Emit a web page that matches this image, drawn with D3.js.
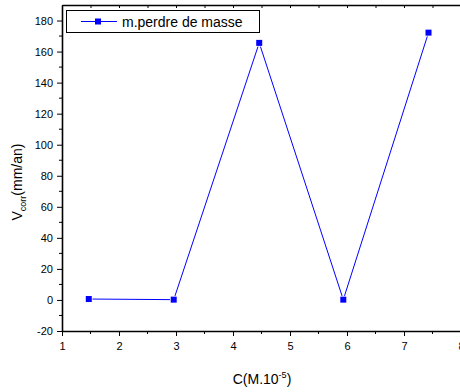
<!DOCTYPE html>
<html>
<head>
<meta charset="utf-8">
<script src="https://cdn.jsdelivr.net/npm/d3@7"></script>
<style>
  body { margin: 0; background: #fff; }
  svg { font-family: "Liberation Sans", Arial, sans-serif; }
</style>
</head>
<body>
<div id="chart"></div>
<script>
const [width, height] = [460, 392];

// data
const concentration = [1.47, 2.96, 4.46, 5.935, 7.43];
const vcorr = [0.6, 0.2, 165.6, 0.2, 172.2];
const seriesName = "m.perdre de masse";
const xTicks = [1, 2, 3, 4, 5, 6, 7, 8];
const yTicks = [-20, 0, 20, 40, 60, 80, 100, 120, 140, 160, 180];

const data = concentration.map((c, i) => ({ x: c, y: vcorr[i] }));

const plot = { left: 62, right: 461, top: 5, bottom: 331 };

const svg = d3.select("#chart")
  .append("svg")
  .attr("width", width)
  .attr("height", height);

const x = d3.scaleLinear().domain([1, 8]).range([plot.left, plot.right]);
const y = d3.scaleLinear().domain([-20, 190]).range([plot.bottom, plot.top]);

const minorX = d3.range(1.5, 8, 1);
const minorY = d3.range(-10, 190, 20);

// plain hyphen for negatives, like the original
const fmt = d => String(d);

// bottom axis
const xAxis = svg.append("g")
  .attr("transform", `translate(0,${plot.bottom})`)
  .call(d3.axisBottom(x).tickValues(xTicks).tickFormat(fmt).tickSize(5).tickSizeOuter(0));
xAxis.append("g").selectAll("line")
  .data(minorX).enter().append("line")
  .attr("x1", d => x(d)).attr("x2", d => x(d))
  .attr("y1", 0).attr("y2", 3)
  .attr("stroke", "#000");

// left axis
const yAxis = svg.append("g")
  .attr("transform", `translate(${plot.left},0)`)
  .call(d3.axisLeft(y).tickValues(yTicks).tickFormat(fmt).tickSize(5).tickSizeOuter(0));
yAxis.append("g").selectAll("line")
  .data(minorY).enter().append("line")
  .attr("y1", d => y(d)).attr("y2", d => y(d))
  .attr("x1", 0).attr("x2", -3)
  .attr("stroke", "#000");

// top axis, ticks inward, no labels
const topAxis = svg.append("g")
  .attr("transform", `translate(0,${plot.top})`)
  .call(d3.axisTop(x).tickValues(xTicks.concat(minorX)).tickFormat("").tickSize(-3).tickSizeOuter(0));

[xAxis, yAxis, topAxis].forEach(g => {
  g.select(".domain").attr("stroke", "#000").attr("stroke-width", 1.6);
  g.selectAll(".tick line").attr("stroke", "#000");
  g.selectAll("text")
    .attr("fill", "#000")
    .style("font-size", "11px")
    .style("font-family", "'Liberation Sans', Arial, sans-serif");
});
xAxis.selectAll(".tick text").attr("dy", "0.72em").attr("y", 11);
yAxis.selectAll(".tick text").attr("x", -9);

// series
const line = d3.line().x(d => x(d.x)).y(d => y(d.y));
svg.append("path")
  .datum(data)
  .attr("fill", "none")
  .attr("stroke", "#0000ff")
  .attr("stroke-width", 1)
  .attr("d", line);

svg.selectAll("rect.pt")
  .data(data)
  .enter()
  .append("rect")
  .attr("class", "pt")
  .attr("x", d => x(d.x) - 3)
  .attr("y", d => y(d.y) - 3)
  .attr("width", 6)
  .attr("height", 6)
  .attr("fill", "#0000ff")
  .attr("stroke", "#fff")
  .attr("stroke-width", 1.5)
  .attr("paint-order", "stroke");

// legend
const legend = svg.append("g");
legend.append("rect")
  .attr("x", 66.5).attr("y", 10.5)
  .attr("width", 193).attr("height", 22)
  .attr("fill", "#fff").attr("stroke", "#000").attr("stroke-width", 1);
legend.append("line")
  .attr("x1", 81).attr("x2", 117).attr("y1", 21.5).attr("y2", 21.5)
  .attr("stroke", "#0000ff").attr("stroke-width", 1);
legend.append("rect")
  .attr("x", 95).attr("y", 18.5).attr("width", 6).attr("height", 6)
  .attr("fill", "#0000ff");
legend.append("text")
  .attr("x", 122).attr("y", 26.5)
  .style("font-size", "14px")
  .text(seriesName);

// axis titles
const xLabel = svg.append("text")
  .attr("x", 262).attr("y", 384)
  .attr("text-anchor", "middle")
  .style("font-size", "14px");
xLabel.append("tspan").text("C(M.10");
xLabel.append("tspan").attr("dy", -6).style("font-size", "9px").text("-5");
xLabel.append("tspan").attr("dy", 6).text(")");

const yLabel = svg.append("text")
  .attr("transform", "translate(22,182) rotate(-90)")
  .attr("text-anchor", "middle")
  .style("font-size", "14px");
yLabel.append("tspan").text("V");
yLabel.append("tspan").attr("dy", 4).style("font-size", "9px").text("corr");
yLabel.append("tspan").attr("dy", -4).text("(mm/an)");
</script>
</body>
</html>
